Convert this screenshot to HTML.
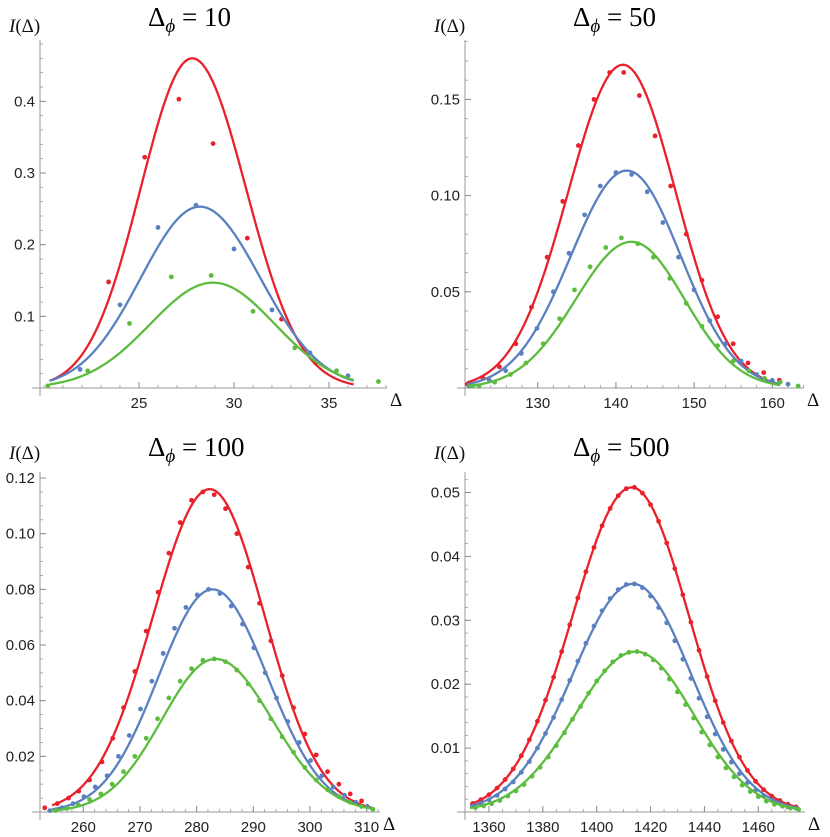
<!DOCTYPE html>
<html><head><meta charset="utf-8">
<style>
html,body{margin:0;padding:0;background:#fff;}
svg{display:block;}
.tk{font-family:"Liberation Sans",sans-serif;font-size:15px;fill:#222;}
.ttl{font-family:"Liberation Serif",serif;font-size:27px;fill:#000;}
.lab{font-family:"Liberation Serif",serif;font-size:19px;fill:#111;}
</style></head>
<body>
<svg id="chart" width="830" height="837" viewBox="0 0 830 837" xmlns="http://www.w3.org/2000/svg"></svg>
<script>
// ---- Panel 1: Δφ = 10 ----
const p1RedX=[23.4,25.3,27.1,28.9,30.7,32.5,34.3];
const p1RedY=[0.148,0.322,0.403,0.341,0.209,0.096,0.035];
const p1BlueX=[21.9,24.0,26.0,28.0,30.0,32.0,34.0,36.0];
const p1BlueY=[0.026,0.116,0.224,0.255,0.194,0.109,0.049,0.017];
const p1GreenX=[20.2,22.3,24.5,26.7,28.8,31.0,33.2,35.4,37.6];
const p1GreenY=[0.003,0.024,0.090,0.155,0.157,0.107,0.056,0.024,0.009];
// fit params: [peak, center, sigmaLeft, sigmaRight, xStart, xEnd]
const p1RedFit=[0.46,27.8,2.71,2.83,20.3,36.3];
const p1BlueFit=[0.253,28.2,3.11,3.19,20.3,36.3];
const p1GreenFit=[0.147,28.9,3.31,3.25,20.3,36.3];
const p1XTicks=[25,30,35];
const p1YTicks=[0.1,0.2,0.3,0.4];
const p1YLabels=["0.1","0.2","0.3","0.4"];

// ---- Panel 2: Δφ = 50 ----
const p2RedX=[121,123,125.1,127.2,129.2,131.2,133.2,135.2,137.2,139.2,141.0,143.0,145.0,147.0,149.0,151.0,153.0,155.0,156.9,158.9,160.9];
const p2RedY=[0.002,0.005,0.011,0.023,0.042,0.068,0.097,0.126,0.150,0.164,0.164,0.152,0.131,0.105,0.080,0.056,0.037,0.023,0.013,0.008,0.004];
const p2BlueX=[121.2,123.8,125.9,127.9,129.9,132,134,136,138,140,142,144,146,148,150,152,154,156,158,160,162];
const p2BlueY=[0.001,0.004,0.009,0.018,0.031,0.050,0.070,0.090,0.105,0.112,0.111,0.102,0.086,0.068,0.051,0.035,0.023,0.014,0.007,0.004,0.002];
const p2GreenX=[121.6,122.5,124.5,126.5,128.5,130.7,132.8,134.7,136.7,138.7,140.7,142.8,144.8,146.9,149,151,153,155,157,159,161,163.3];
const p2GreenY=[0.001,0.001,0.003,0.007,0.013,0.023,0.036,0.051,0.063,0.073,0.078,0.075,0.068,0.057,0.044,0.032,0.022,0.014,0.009,0.005,0.003,0.001];
const p2RedFit=[0.168,140.9,7.0,6.75,121,161];
const p2BlueFit=[0.113,141.4,7.18,6.9,121,161];
const p2GreenFit=[0.076,142.0,7.14,6.78,121,161];
const p2XTicks=[130,140,150,160];
const p2YTicks=[0.05,0.10,0.15];
const p2YLabels=["0.05","0.10","0.15"];

// ---- Panel 3: Δφ = 100 ----
const p3RedX=[253.2,255.4,257.4,259.2,261.1,263.3,265.2,267.1,269.1,271.1,273.2,275.1,277.1,279.1,281.1,283.1,285.1,287.1,289.1,291.1,293.1,295.1,297.1,299.1,301.1,303.1,305.1,307.1,309.1];
const p3RedY=[0.0015,0.003,0.005,0.0075,0.0115,0.018,0.0265,0.0375,0.0505,0.065,0.079,0.093,0.104,0.112,0.115,0.114,0.109,0.100,0.088,0.075,0.0615,0.049,0.0375,0.028,0.0205,0.0145,0.010,0.0065,0.004];
const p3BlueX=[254.1,256.2,258.2,260.1,262.1,264.2,266.2,268.1,270.1,272.1,274.1,276.1,278.1,280.1,282.1,284.1,286.1,288.1,290.1,292.1,294.1,296.1,298.1,300.1,302.1,304.1,306.1,308.1,310.1];
const p3BlueY=[0.0005,0.0015,0.003,0.0055,0.009,0.013,0.020,0.0275,0.037,0.047,0.057,0.066,0.0735,0.078,0.080,0.0785,0.074,0.0675,0.059,0.050,0.041,0.0325,0.025,0.0185,0.013,0.009,0.006,0.0035,0.002];
const p3GreenX=[255.1,257.1,259.1,261.1,263.1,265.1,267.1,269.1,271.1,273.1,275.1,277.1,279.1,281.1,283.1,285.1,287.1,289.1,291.1,293.1,295.1,297.1,299.1,301.1,303.1,305.1,307.1,309.1,311.1];
const p3GreenY=[0.0005,0.0013,0.0025,0.0045,0.0065,0.010,0.0145,0.020,0.0265,0.0335,0.041,0.047,0.0515,0.0545,0.055,0.054,0.051,0.046,0.040,0.0335,0.027,0.0215,0.016,0.0115,0.008,0.0055,0.0035,0.002,0.001];
const p3RedFit=[0.116,282.3,10.0,9.73,254.5,311];
const p3BlueFit=[0.080,282.8,9.56,9.73,254.5,311];
const p3GreenFit=[0.055,283.3,9.4,10.0,254.5,311];
const p3XTicks=[260,270,280,290,300,310];
const p3YTicks=[0.02,0.04,0.06,0.08,0.10,0.12];
const p3YLabels=["0.02","0.04","0.06","0.08","0.10","0.12"];

// ---- Panel 4: Δφ = 500 ----
const p4RedX=[1354,1357,1360,1363,1366,1369,1372,1375,1378,1381,1384,1387,1390,1393,1396,1399,1402,1405,1408,1411,1414,1417,1420,1423,1426,1429,1432,1435,1438,1441,1444,1447,1450,1453,1456,1459,1462,1465,1468,1471,1474];
const p4RedY=[0.00135,0.00193,0.00271,0.00374,0.00508,0.00675,0.0088,0.0113,0.0142,0.0175,0.0211,0.0251,0.0293,0.0335,0.0376,0.0414,0.0448,0.0475,0.0495,0.0506,0.0508,0.0499,0.0481,0.0455,0.0421,0.0381,0.0340,0.0297,0.0253,0.0212,0.0174,0.0140,0.0111,0.0086,0.0065,0.0048,0.0035,0.0025,0.0018,0.0012,0.0008];
const p4BlueX=[1354,1357,1360,1363,1366,1369,1372,1375,1378,1381,1384,1387,1390,1393,1396,1399,1402,1405,1408,1411,1414,1417,1420,1423,1426,1429,1432,1435,1438,1441,1444,1447,1450,1453,1456,1459,1462,1465,1468,1471,1474];
const p4BlueY=[0.00095,0.00136,0.0019,0.0026,0.0036,0.0047,0.0062,0.0079,0.0100,0.0123,0.0148,0.0176,0.0206,0.0236,0.0264,0.0291,0.0315,0.0334,0.0348,0.0356,0.0357,0.0351,0.0338,0.0320,0.0296,0.0268,0.0239,0.0209,0.0178,0.0149,0.0122,0.0098,0.0078,0.0060,0.0046,0.0034,0.0025,0.0018,0.0013,0.0008,0.0006];
const p4GreenX=[1355,1358,1361,1364,1367,1370,1373,1376,1379,1382,1385,1388,1391,1394,1397,1400,1403,1406,1409,1412,1415,1418,1421,1424,1427,1430,1433,1436,1439,1442,1445,1448,1451,1454,1457,1460,1463,1466,1469,1472,1475];
const p4GreenY=[0.00067,0.00095,0.0013,0.0018,0.0025,0.0033,0.0043,0.0056,0.0070,0.0086,0.0104,0.0124,0.0145,0.0165,0.0186,0.0205,0.0221,0.0235,0.0245,0.0250,0.0251,0.0247,0.0238,0.0225,0.0208,0.0188,0.0168,0.0147,0.0125,0.0105,0.0086,0.0069,0.0055,0.0042,0.0032,0.0024,0.0017,0.0012,0.0009,0.0006,0.0004];
const p4RedFit=[0.0508,1413,21.9,21.2,1353,1475];
const p4BlueFit=[0.0357,1413.5,22.3,21.5,1353,1475];
const p4GreenFit=[0.0251,1414.5,22.5,21.6,1353,1475];
const p4XTicks=[1360,1380,1400,1420,1440,1460];
const p4YTicks=[0.01,0.02,0.03,0.04,0.05];
const p4YLabels=["0.01","0.02","0.03","0.04","0.05"];

const NS="http://www.w3.org/2000/svg";
const svg=document.getElementById('chart');
const RED="#e8212b",BLUE="#5a80c0",GREEN="#5cbc3e";
function mk(tag,attrs,parent){const e=document.createElementNS(NS,tag);for(const k in attrs)e.setAttribute(k,attrs[k]);(parent||svg).appendChild(e);return e;}

function panel(o){
  const g=mk('g',{});
  
  
  const sx=v=>o.ax+(v-o.xr[0])*o.kx, sy=v=>o.ay-v*o.ky;
  const ya=mk('line',{x1:o.ax,y1:o.ay+8,x2:o.ax,y2:o.yTop,stroke:'#999','stroke-width':1},g);
  
  
  const xa=mk('line',{x1:o.ax-8,y1:o.ay,x2:o.xEnd,y2:o.ay,stroke:'#999','stroke-width':1},g);
  
  
  for(let v=o.yMinor;sy(v)>o.yTop;v+=o.yMinor){const y=sy(v);mk('line',{x1:o.ax,y1:y,x2:o.ax+3,y2:y,stroke:'#999','stroke-width':0.8},g);}
  for(let v=Math.ceil(o.xr[0]/o.xMinor)*o.xMinor;sx(v)<o.xEnd;v+=o.xMinor){const x=sx(v);mk('line',{x1:x,y1:o.ay,x2:x,y2:o.ay-3,stroke:'#999','stroke-width':0.8},g);}
  o.yt.forEach((v,i)=>{const y=sy(v);mk('line',{x1:o.ax,y1:y,x2:o.ax+6,y2:y,stroke:'#888','stroke-width':1},g);
    const t=mk('text',{x:o.ax-5,y:y+5,'text-anchor':'end',class:'tk'},g);t.textContent=o.yl[i];
    
    });
  o.xt.forEach(v=>{const x=sx(v);mk('line',{x1:x,y1:o.ay,x2:x,y2:o.ay-6,stroke:'#888','stroke-width':1},g);
    const t=mk('text',{x:x,y:o.ay+20,'text-anchor':'middle',class:'tk'},g);t.textContent=String(v);
    
    });
  const il=mk('text',{x:o.ax-31,y:o.iy,class:'lab','font-style':'italic'},g);
  il.innerHTML='I<tspan font-style="normal">(Δ)</tspan>';
  
  
  const xl=mk('text',{x:o.xEnd+3,y:o.ay+18,class:'lab','font-size':'24'},g);xl.textContent='Δ';
  
  
  const tt=mk('text',{x:o.tx,y:o.ty,class:'ttl'},g);
  tt.innerHTML='Δ<tspan font-style="italic" font-size="19" dy="6">ϕ</tspan><tspan dy="-6"> = '+o.title+'</tspan>';
  
  
  o.series.forEach(s=>{
    const f=s.fit;let d='';const n=200;
    for(let i=0;i<=n;i++){const x=f[4]+(f[5]-f[4])*i/n;const sg=x<f[1]?f[2]:f[3];
      const y=f[0]*Math.exp(-(x-f[1])*(x-f[1])/(2*sg*sg));d+=(i?'L':'M')+sx(x).toFixed(2)+' '+sy(y).toFixed(2);}
    const p=mk('path',{d:d,fill:'none',stroke:s.c,'stroke-width':2.3},g);
    
    
    s.x.forEach((xv,i)=>{const c=mk('circle',{cx:sx(xv),cy:sy(s.y[i]),r:2.4,fill:s.c},g);
      
      });
  });
}
panel({name:'panel-dphi-10',ax:40,ay:388,kx:19,ky:716.7,xr:[19.79],yTop:40,xEnd:387,yMinor:0.02,xMinor:1,iy:32,
  xt:p1XTicks,yt:p1YTicks,yl:p1YLabels,title:'10',tx:148,ty:26,
  series:[{n:'red',c:RED,x:p1RedX,y:p1RedY,fit:p1RedFit},{n:'blue',c:BLUE,x:p1BlueX,y:p1BlueY,fit:p1BlueFit},{n:'green',c:GREEN,x:p1GreenX,y:p1GreenY,fit:p1GreenFit}]});
panel({name:'panel-dphi-50',ax:465,ay:388,kx:7.82,ky:1924,xr:[120.7],yTop:40,xEnd:804,yMinor:0.01,xMinor:2,iy:32,
  xt:p2XTicks,yt:p2YTicks,yl:p2YLabels,title:'50',tx:573,ty:26,
  series:[{n:'red',c:RED,x:p2RedX,y:p2RedY,fit:p2RedFit},{n:'blue',c:BLUE,x:p2BlueX,y:p2BlueY,fit:p2BlueFit},{n:'green',c:GREEN,x:p2GreenX,y:p2GreenY,fit:p2GreenFit}]});
panel({name:'panel-dphi-100',ax:40,ay:812,kx:5.667,ky:2783,xr:[252.36],yTop:472,xEnd:380,yMinor:0.005,xMinor:2,iy:459,
  xt:p3XTicks,yt:p3YTicks,yl:p3YLabels,title:'100',tx:148,ty:456,
  series:[{n:'red',c:RED,x:p3RedX,y:p3RedY,fit:p3RedFit},{n:'blue',c:BLUE,x:p3BlueX,y:p3BlueY,fit:p3BlueFit},{n:'green',c:GREEN,x:p3GreenX,y:p3GreenY,fit:p3GreenFit}]});
panel({name:'panel-dphi-500',ax:465,ay:812,kx:2.693,ky:6390,xr:[1351.1],yTop:472,xEnd:805,yMinor:0.002,xMinor:5,iy:459,
  xt:p4XTicks,yt:p4YTicks,yl:p4YLabels,title:'500',tx:573,ty:456,
  series:[{n:'red',c:RED,x:p4RedX,y:p4RedY,fit:p4RedFit},{n:'blue',c:BLUE,x:p4BlueX,y:p4BlueY,fit:p4BlueFit},{n:'green',c:GREEN,x:p4GreenX,y:p4GreenY,fit:p4GreenFit}]});
</script>
</body></html>
